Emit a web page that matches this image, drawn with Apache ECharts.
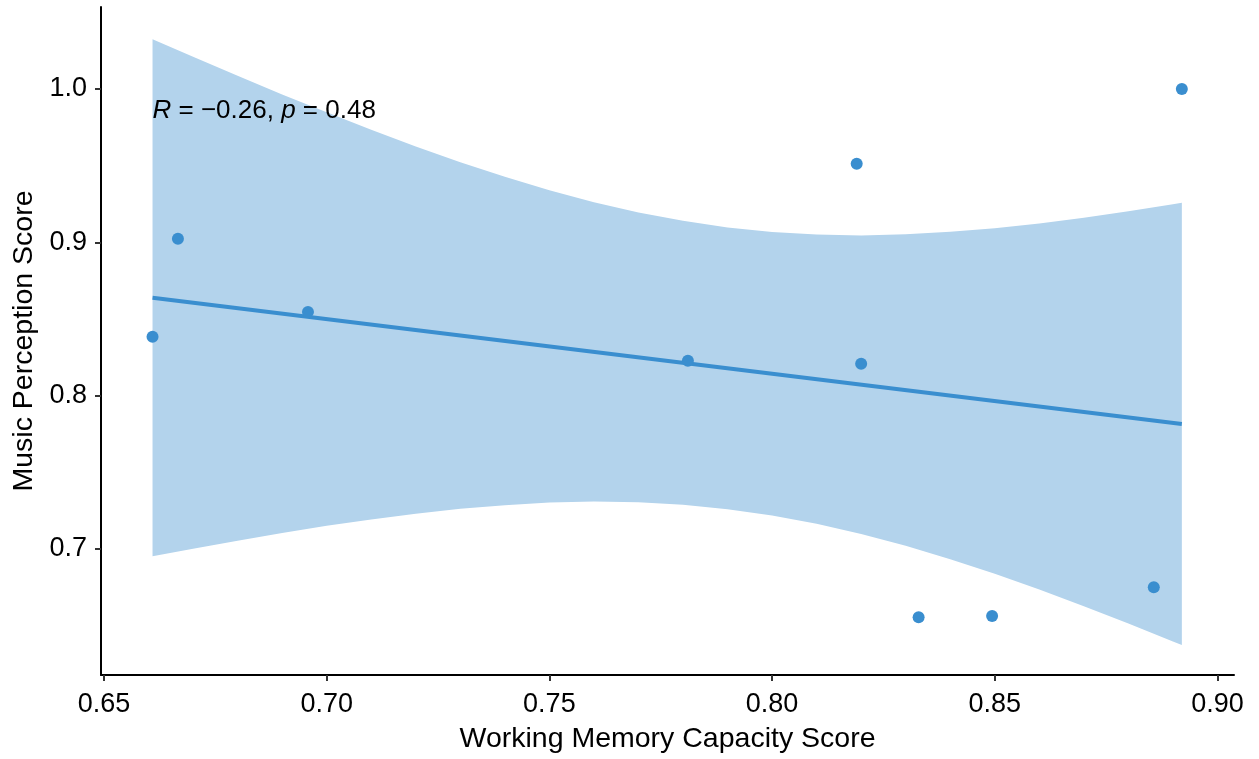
<!DOCTYPE html>
<html>
<head>
<meta charset="utf-8">
<script src="https://cdn.jsdelivr.net/npm/echarts@6/dist/echarts.min.js"></script>
<style>
  html, body { margin: 0; padding: 0; background: #ffffff; }
  #chart { width: 1259px; height: 759px; }
</style>
</head>
<body>
<div id="chart"></div>
<script>
// ---- data ----
const xTicks = [0.65, 0.70, 0.75, 0.80, 0.85, 0.90];
const yTicks = [0.7, 0.8, 0.9, 1.0];

const wmcScore   = [0.6609, 0.6666, 0.6958, 0.7811, 0.8190, 0.8200, 0.8329, 0.8494, 0.8857, 0.8920];
const musicScore = [0.8383, 0.9023, 0.8546, 0.8227, 0.9512, 0.8207, 0.6554, 0.6562, 0.6749, 1.0000];

// regression line (read at its two ends)
const fitX = [0.6609, 0.8920];
const fitY = [0.8638, 0.7815];

// confidence band edges, read along x
const bandX     = [0.6609, 0.67, 0.68, 0.69, 0.70, 0.71, 0.72, 0.73, 0.74, 0.75, 0.76, 0.77, 0.78,
                   0.79, 0.80, 0.81, 0.82, 0.83, 0.84, 0.85, 0.86, 0.87, 0.88, 0.89, 0.8920];
const bandUpper = [1.0325, 1.0211, 1.0087, 0.9965, 0.9848, 0.9734, 0.9625, 0.9523, 0.9427, 0.9340, 0.9262, 0.9194, 0.9140,
                   0.9097, 0.9067, 0.9051, 0.9045, 0.9052, 0.9068, 0.9091, 0.9123, 0.9160, 0.9202, 0.9248, 0.9258];
const bandLower = [0.6951, 0.7001, 0.7053, 0.7103, 0.7150, 0.7192, 0.7229, 0.7261, 0.7285, 0.7302, 0.7308, 0.7304, 0.7288,
                   0.7259, 0.7217, 0.7163, 0.7097, 0.7020, 0.6932, 0.6837, 0.6735, 0.6626, 0.6512, 0.6396, 0.6372];

const annotationPos = [0.6609, 0.9858];
const xTitle = 'Working Memory Capacity Score';
const yTitle = 'Music Perception Score';

// ---- build library tables ----
const points  = wmcScore.map((x, i) => [x, musicScore[i]]);
const fitLine = fitX.map((x, i) => [x, fitY[i]]);

const FONT = '"Liberation Sans", Arial, sans-serif';
const BLUE = '#3a8ecf';
const FILL = '#b3d3ec';

const chart = echarts.init(document.getElementById('chart'), null, { renderer: 'canvas' });
chart.setOption({
  animation: false,
  backgroundColor: '#ffffff',
  grid: { left: 101, right: 25, top: 7, bottom: 84, containLabel: false },
  xAxis: {
    type: 'value',
    min: 0.64933, max: 0.90371,
    name: xTitle,
    nameLocation: 'middle',
    nameGap: 50,
    nameTextStyle: { fontFamily: FONT, fontSize: 28.5, color: '#000' },
    axisLine: { show: true, onZero: false, lineStyle: { color: '#000', width: 2 } },
    axisTick: { show: true, customValues: xTicks, length: 6, lineStyle: { color: '#333', width: 2 } },
    axisLabel: { customValues: xTicks, margin: 16, fontFamily: FONT, fontSize: 27, color: '#000',
                 formatter: v => v.toFixed(2) },
    splitLine: { show: false }
  },
  yAxis: {
    type: 'value',
    min: 0.61768, max: 1.05352,
    name: yTitle,
    nameLocation: 'middle',
    nameGap: 47,
    nameTextStyle: { fontFamily: FONT, fontSize: 28.5, color: '#000' },
    axisLine: { show: true, onZero: false, lineStyle: { color: '#000', width: 2 } },
    axisTick: { show: true, customValues: yTicks, length: 6, lineStyle: { color: '#333', width: 2 } },
    axisLabel: { customValues: yTicks, margin: 14, fontFamily: FONT, fontSize: 27, color: '#000',
                 formatter: v => v.toFixed(1) },
    splitLine: { show: false }
  },
  series: [
    {
      type: 'custom', z: 1, silent: true,
      data: [0],
      renderItem: function (params, api) {
        const pts = [];
        for (let i = 0; i < bandX.length; i++) pts.push(api.coord([bandX[i], bandUpper[i]]));
        for (let i = bandX.length - 1; i >= 0; i--) pts.push(api.coord([bandX[i], bandLower[i]]));
        return { type: 'polygon', shape: { points: pts }, style: { fill: FILL, stroke: null } };
      }
    },
    {
      type: 'line', data: fitLine, smooth: false, symbol: 'none',
      lineStyle: { color: BLUE, width: 4 }, z: 3, silent: true
    },
    {
      type: 'scatter', data: points, symbol: 'circle', symbolSize: 12,
      itemStyle: { color: BLUE, opacity: 1 }, z: 4, silent: true
    },
    {
      type: 'custom', z: 5, silent: true,
      data: [0],
      renderItem: function (params, api) {
        const p = api.coord(annotationPos);
        return {
          type: 'text', x: p[0], y: p[1],
          style: {
            text: '{i|R} = \u22120.26, {i|p} = 0.48',
            fill: '#000', font: '26px ' + FONT,
            align: 'left', verticalAlign: 'middle',
            rich: { i: { fontStyle: 'italic', fontFamily: FONT, fontSize: 26, fill: '#000' } }
          }
        };
      }
    }
  ]
});
</script>
</body>
</html>
